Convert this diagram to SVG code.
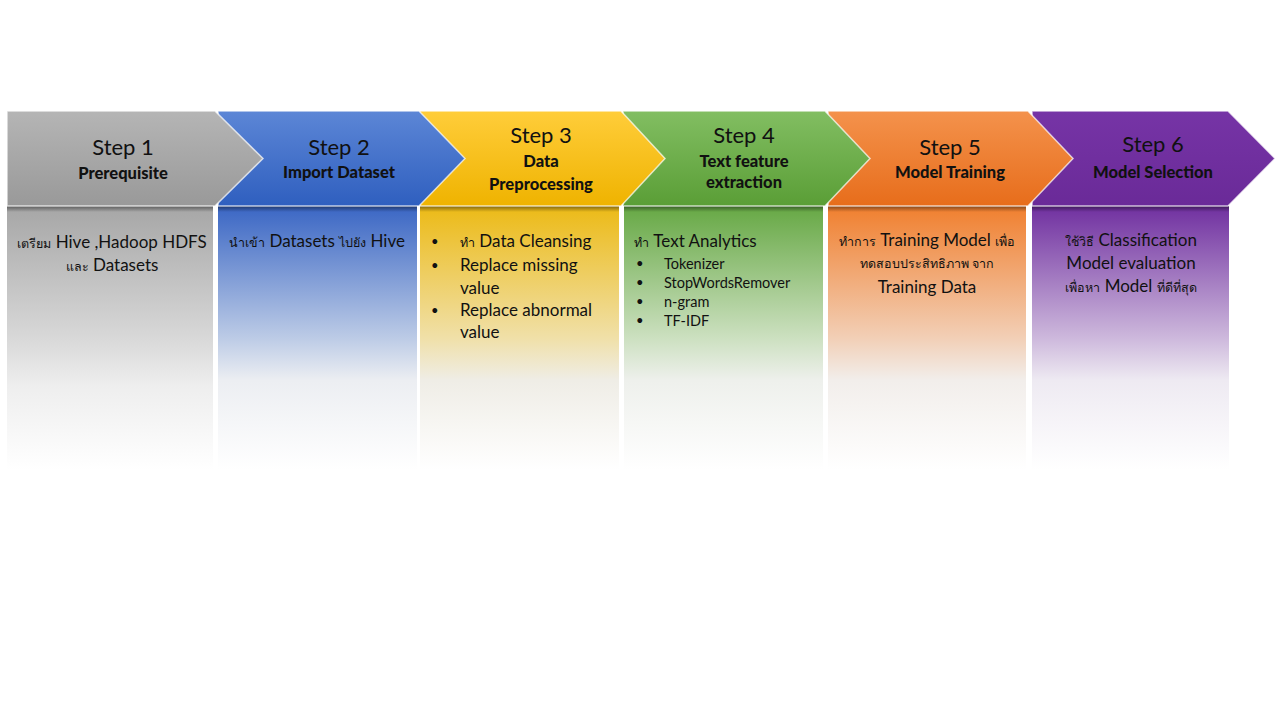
<svg xmlns="http://www.w3.org/2000/svg" width="1280" height="720" viewBox="0 0 1280 720">
<defs>
<linearGradient id="cg1" x1="0" y1="0" x2="0" y2="1"><stop offset="0" stop-color="#b5b5b5"/><stop offset="1" stop-color="#999999"/></linearGradient>
<linearGradient id="cg2" x1="0" y1="0" x2="0" y2="1"><stop offset="0" stop-color="#5c86d6"/><stop offset="1" stop-color="#2f5fbf"/></linearGradient>
<linearGradient id="cg3" x1="0" y1="0" x2="0" y2="1"><stop offset="0" stop-color="#ffcd3a"/><stop offset="1" stop-color="#efb300"/></linearGradient>
<linearGradient id="cg4" x1="0" y1="0" x2="0" y2="1"><stop offset="0" stop-color="#82be62"/><stop offset="1" stop-color="#5a9e36"/></linearGradient>
<linearGradient id="cg5" x1="0" y1="0" x2="0" y2="1"><stop offset="0" stop-color="#f4924c"/><stop offset="1" stop-color="#e76d1b"/></linearGradient>
<linearGradient id="cg6" x1="0" y1="0" x2="0" y2="1"><stop offset="0" stop-color="#7634a6"/><stop offset="1" stop-color="#6a2a98"/></linearGradient>
<linearGradient id="pg1" x1="0" y1="0" x2="0" y2="1"><stop offset="0" stop-color="#a6a6a6"/><stop offset="0.5" stop-color="#d8d8d8"/><stop offset="0.68" stop-color="#eeeeee"/><stop offset="1" stop-color="#ffffff"/></linearGradient>
<linearGradient id="pg2" x1="0" y1="0" x2="0" y2="1"><stop offset="0" stop-color="#3a66c4"/><stop offset="0.5" stop-color="#bccbe6"/><stop offset="0.66" stop-color="#eceef2"/><stop offset="1" stop-color="#ffffff"/></linearGradient>
<linearGradient id="pg3" x1="0" y1="0" x2="0" y2="1"><stop offset="0" stop-color="#ecba16"/><stop offset="0.5" stop-color="#f0e0a8"/><stop offset="0.66" stop-color="#efede6"/><stop offset="1" stop-color="#ffffff"/></linearGradient>
<linearGradient id="pg4" x1="0" y1="0" x2="0" y2="1"><stop offset="0" stop-color="#66a844"/><stop offset="0.5" stop-color="#cce0c0"/><stop offset="0.66" stop-color="#eef0ec"/><stop offset="1" stop-color="#ffffff"/></linearGradient>
<linearGradient id="pg5" x1="0" y1="0" x2="0" y2="1"><stop offset="0" stop-color="#f07f2e"/><stop offset="0.5" stop-color="#f2cfb6"/><stop offset="0.66" stop-color="#f2eeeb"/><stop offset="1" stop-color="#ffffff"/></linearGradient>
<linearGradient id="pg6" x1="0" y1="0" x2="0" y2="1"><stop offset="0" stop-color="#7030a0"/><stop offset="0.5" stop-color="#cdb8dc"/><stop offset="0.66" stop-color="#eeeaf2"/><stop offset="1" stop-color="#ffffff"/></linearGradient>
<linearGradient id="shadow" x1="0" y1="0" x2="0" y2="1"><stop offset="0" stop-color="#000" stop-opacity="0.45"/><stop offset="1" stop-color="#000" stop-opacity="0"/></linearGradient>
</defs>
<style>
.chev{stroke:#ffffff;stroke-opacity:0.7;stroke-width:1.5;stroke-linejoin:miter}
.st{font-family:Lato,"Open Sans","Noto Sans",sans-serif;font-size:22px;fill:#111;text-anchor:middle}
.sub{font-family:Lato,"Open Sans","Noto Sans",sans-serif;font-size:16.5px;font-weight:900;fill:#111;text-anchor:middle}
.bd{font-family:Lato,"Open Sans","Noto Sans",sans-serif;font-size:17px;fill:#111}
.c{text-anchor:middle}
.th{font-size:12.5px}
.sm{font-family:Lato,"Open Sans","Noto Sans",sans-serif;font-size:14.5px;fill:#111}
.bl{font-size:13px}
.sh{fill:url(#shadow)}
</style>
<rect width="1280" height="720" fill="#ffffff"/>
<g id="panels">
<rect x="7" y="206" width="206" height="264" fill="url(#pg1)"/>
<rect x="218" y="206" width="199" height="264" fill="url(#pg2)"/>
<rect x="420" y="206" width="199" height="264" fill="url(#pg3)"/>
<rect x="624" y="206" width="199" height="264" fill="url(#pg4)"/>
<rect x="828" y="206" width="198" height="264" fill="url(#pg5)"/>
<rect x="1032" y="206" width="197" height="264" fill="url(#pg6)"/>
<rect x="7" y="206" width="206" height="6" class="sh"/>
<rect x="218" y="206" width="199" height="6" class="sh"/>
<rect x="420" y="206" width="199" height="6" class="sh"/>
<rect x="624" y="206" width="199" height="6" class="sh"/>
<rect x="828" y="206" width="198" height="6" class="sh"/>
<rect x="1032" y="206" width="197" height="6" class="sh"/>
</g>
<g id="step6">
<polygon class="chev" points="1032,111 1228,111 1275,158.5 1228,206 1032,206" fill="url(#cg6)"/>
<text class="st" x="1153" y="152">Step 6</text>
<text class="sub" x="1153" y="178">Model Selection</text>
<text class="bd c" x="1131" y="246"><tspan class="th">ใช้วิธี</tspan> Classification</text>
<text class="bd c" x="1131" y="269">Model evaluation</text>
<text class="bd c" x="1131" y="292"><tspan class="th">เพื่อหา</tspan> Model <tspan class="th">ที่ดีที่สุด</tspan></text>
</g>
<g id="step5">
<polygon class="chev" points="828,111 1028,111 1073,158.5 1028,206 828,206" fill="url(#cg5)"/>
<text class="st" x="950" y="155">Step 5</text>
<text class="sub" x="950" y="178">Model Training</text>
<text class="bd c" x="927" y="246"><tspan class="th">ทำการ</tspan> Training Model <tspan class="th">เพื่อ</tspan></text>
<text class="bd c th" x="927" y="268">ทดสอบประสิทธิภาพ จาก</text>
<text class="bd c" x="927" y="293">Training Data</text>
</g>
<g id="step4">
<polygon class="chev" points="623,111 825,111 870,158.5 825,206 623,206" fill="url(#cg4)"/>
<text class="st" x="744" y="143">Step 4</text>
<text class="sub" x="744" y="167">Text feature</text>
<text class="sub" x="744" y="188">extraction</text>
<text class="bd" x="634" y="247"><tspan class="th">ทำ</tspan> Text Analytics</text>
<g class="sm">
<text class="bl" x="636" y="268">•</text><text x="664" y="269">Tokenizer</text>
<text class="bl" x="636" y="287">•</text><text x="664" y="288">StopWordsRemover</text>
<text class="bl" x="636" y="306">•</text><text x="664" y="307">n-gram</text>
<text class="bl" x="636" y="325">•</text><text x="664" y="326">TF-IDF</text>
</g>
</g>
<g id="step3">
<polygon class="chev" points="420,111 621,111 665,158.5 621,206 420,206" fill="url(#cg3)"/>
<text class="st" x="541" y="143">Step 3</text>
<text class="sub" x="541" y="167">Data</text>
<text class="sub" x="541" y="190">Preprocessing</text>
<g class="bd">
<text class="bl" x="431" y="246">•</text><text x="460" y="247"><tspan class="th">ทำ</tspan> Data Cleansing</text>
<text class="bl" x="431" y="270">•</text><text x="460" y="271">Replace missing</text>
<text x="460" y="294">value</text>
<text class="bl" x="431" y="315">•</text><text x="460" y="316">Replace abnormal</text>
<text x="460" y="338">value</text>
</g>
</g>
<g id="step2">
<polygon class="chev" points="218,111 419,111 465,158.5 419,206 218,206" fill="url(#cg2)"/>
<text class="st" x="339" y="155">Step 2</text>
<text class="sub" x="339" y="178">Import Dataset</text>
<text class="bd c" x="317" y="247"><tspan class="th">นำเข้า</tspan> Datasets <tspan class="th">ไปยัง</tspan> Hive</text>
</g>
<g id="step1">
<polygon class="chev" points="7,111 215,111 263,158.5 215,206 7,206" fill="url(#cg1)"/>
<text class="st" x="123" y="155">Step 1</text>
<text class="sub" x="123" y="179">Prerequisite</text>
<text class="bd c" x="112" y="248"><tspan class="th">เตรียม</tspan> Hive ,Hadoop HDFS</text>
<text class="bd c" x="112" y="271"><tspan class="th">และ</tspan> Datasets</text>
</g>
</svg>
